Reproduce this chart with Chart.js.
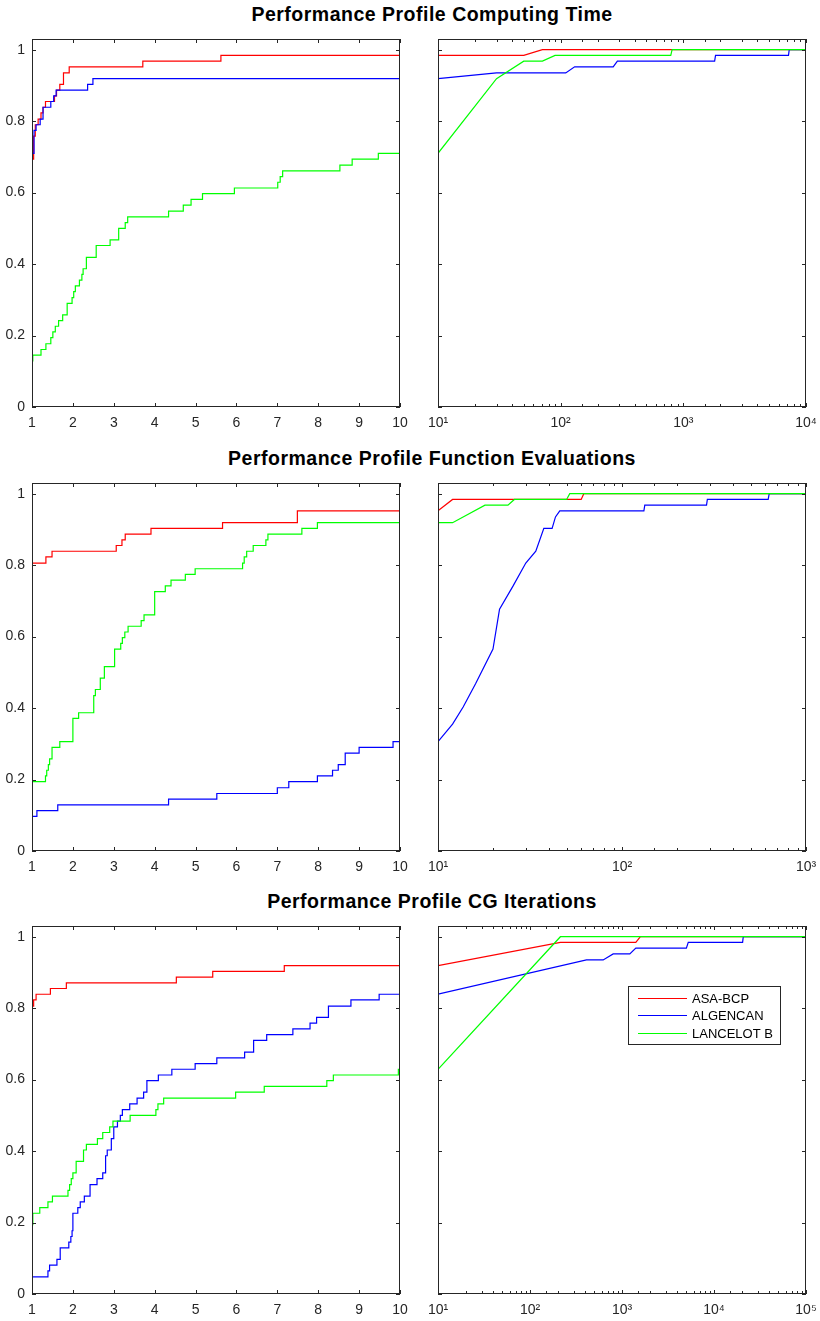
<!DOCTYPE html>
<html><head><meta charset="utf-8">
<script src="https://cdn.jsdelivr.net/npm/chart.js@4/dist/chart.umd.min.js"></script>
<style>
body{margin:0;background:#fff;width:820px;height:1321px;position:relative;overflow:hidden;font-family:'Liberation Sans',Arial,sans-serif}
canvas{position:absolute}
.title{position:absolute;left:0;width:864px;text-align:center;font-weight:bold;font-size:19.5px;letter-spacing:0.5px;line-height:22px;color:#000;white-space:nowrap}
</style></head><body>
<script>
// ---------- names / colours / tick labels ----------
const seriesNames = ['ASA-BCP', 'ALGENCAN', 'LANCELOT B'];
const seriesColors = ['#ff0000', '#0000ff', '#00ff00'];
const panelTitles = ['Performance Profile Computing Time', 'Performance Profile Function Evaluations', 'Performance Profile CG Iterations'];
const linXTicks = [1, 2, 3, 4, 5, 6, 7, 8, 9, 10];
const linXTickLabels = ['1', '2', '3', '4', '5', '6', '7', '8', '9', '10'];
const yTicks = [0, 0.2, 0.4, 0.6, 0.8, 1];
const yTickLabels = ['0', '0.2', '0.4', '0.6', '0.8', '1'];
const logMajorTicks = [10, 100, 1000, 10000, 100000];
const logMajorLabels = ['10\u00B9', '10\u00B2', '10\u00B3', '10\u2074', '10\u2075'];
const logXMax = [10000, 1000, 100000];

// ---------- Computing time ----------
const time_lin_asa_x = [1, 1.04, 1.08, 1.15, 1.22, 1.27, 1.33, 1.55, 1.6, 1.68, 1.77, 1.91, 3.71, 5.62, 10];
const time_lin_asa_y = [0.694, 0.758, 0.790, 0.806, 0.823, 0.839, 0.855, 0.871, 0.887, 0.903, 0.935, 0.952, 0.968, 0.984, 0.984];
const time_lin_alg_x = [1, 1.05, 1.1, 1.2, 1.27, 1.46, 1.53, 1.59, 2.36, 2.49, 10];
const time_lin_alg_y = [0.710, 0.774, 0.790, 0.806, 0.839, 0.855, 0.871, 0.887, 0.903, 0.919, 0.919];
const time_lin_lan_x = [1, 1.02, 1.22, 1.34, 1.46, 1.51, 1.57, 1.65, 1.75, 1.86, 1.98, 2.02, 2.06, 2.16, 2.22, 2.25, 2.33, 2.57, 2.91, 3.12, 3.28, 3.34, 4.34, 4.7, 4.89, 5.17, 5.95, 7.01, 7.07, 7.13, 8.53, 8.83, 9.47, 10];
const time_lin_lan_y = [0.129, 0.145, 0.161, 0.177, 0.194, 0.210, 0.226, 0.242, 0.258, 0.290, 0.306, 0.323, 0.339, 0.355, 0.371, 0.387, 0.419, 0.452, 0.468, 0.500, 0.516, 0.532, 0.548, 0.565, 0.581, 0.597, 0.613, 0.629, 0.645, 0.661, 0.677, 0.694, 0.710, 0.710];

const time_log_asa_x = [10, 50, 71, 10000];
const time_log_asa_y = [0.984, 0.984, 1, 1];
const time_log_alg_x = [10, 30, 110, 130, 268, 290, 1800, 1830, 7200, 7300, 10000];
const time_log_alg_y = [0.919, 0.935, 0.935, 0.952, 0.952, 0.968, 0.968, 0.984, 0.984, 1, 1];
const time_log_lan_x = [10, 30, 50, 71, 90, 790, 810, 10000];
const time_log_lan_y = [0.710, 0.919, 0.968, 0.968, 0.984, 0.984, 1, 1];

// ---------- Function evaluations ----------
const fev_lin_asa_x = [1, 1.34, 1.49, 3.06, 3.2, 3.28, 3.91, 5.66, 7.49, 10];
const fev_lin_asa_y = [0.806, 0.823, 0.839, 0.855, 0.871, 0.887, 0.903, 0.919, 0.952, 0.952];
const fev_lin_alg_x = [1, 1.12, 1.63, 4.34, 5.52, 7.0, 7.28, 7.98, 8.35, 8.49, 8.66, 9.0, 9.83, 10];
const fev_lin_alg_y = [0.097, 0.113, 0.129, 0.145, 0.161, 0.177, 0.194, 0.210, 0.226, 0.242, 0.274, 0.290, 0.306, 0.306];
const fev_lin_lan_x = [1, 1.33, 1.36, 1.4, 1.43, 1.49, 1.68, 2.0, 2.14, 2.51, 2.55, 2.67, 2.77, 3.02, 3.17, 3.21, 3.27, 3.35, 3.67, 3.74, 4.0, 4.26, 4.4, 4.75, 4.99, 6.15, 6.19, 6.25, 6.41, 6.72, 6.77, 7.6, 7.98, 10];
const fev_lin_lan_y = [0.194, 0.210, 0.226, 0.242, 0.258, 0.290, 0.306, 0.371, 0.387, 0.435, 0.452, 0.484, 0.516, 0.565, 0.581, 0.597, 0.613, 0.629, 0.645, 0.661, 0.726, 0.742, 0.758, 0.774, 0.790, 0.806, 0.823, 0.839, 0.855, 0.871, 0.887, 0.903, 0.919, 0.919];

const fev_log_asa_x = [10, 12, 60, 62, 1000];
const fev_log_asa_y = [0.952, 0.984, 0.984, 1, 1];
const fev_log_alg_x = [10, 12, 13.7, 16, 19.9, 21.6, 25.6, 30, 34, 37.6, 41.7, 43.5, 45.9, 131.5, 133, 288, 291, 623, 631, 1000];
const fev_log_alg_y = [0.306, 0.355, 0.403, 0.468, 0.565, 0.677, 0.742, 0.806, 0.839, 0.903, 0.903, 0.935, 0.952, 0.952, 0.968, 0.968, 0.984, 0.984, 1, 1];
const fev_log_lan_x = [10, 12, 18, 24, 26, 50, 52, 1000];
const fev_log_lan_y = [0.919, 0.919, 0.968, 0.968, 0.984, 0.984, 1, 1];

// ---------- CG iterations ----------
const cg_lin_asa_x = [1, 1.04, 1.1, 1.45, 1.84, 4.53, 5.42, 7.17, 10];
const cg_lin_asa_y = [0.806, 0.823, 0.839, 0.855, 0.871, 0.887, 0.903, 0.919, 0.919];
const cg_lin_alg_x = [1, 1.39, 1.43, 1.61, 1.69, 1.9, 1.95, 1.98, 2.0, 2.12, 2.18, 2.28, 2.42, 2.59, 2.73, 2.8, 2.84, 2.94, 3.0, 3.09, 3.16, 3.21, 3.39, 3.57, 3.73, 3.81, 4.09, 4.42, 4.99, 5.52, 6.2, 6.42, 6.74, 7.38, 7.8, 7.96, 8.25, 8.8, 9.49, 10];
const cg_lin_alg_y = [0.048, 0.065, 0.081, 0.097, 0.129, 0.145, 0.161, 0.177, 0.226, 0.242, 0.258, 0.274, 0.306, 0.323, 0.339, 0.387, 0.403, 0.435, 0.468, 0.484, 0.500, 0.516, 0.532, 0.548, 0.565, 0.597, 0.613, 0.629, 0.645, 0.661, 0.677, 0.710, 0.726, 0.742, 0.758, 0.774, 0.806, 0.823, 0.839, 0.839];
const cg_lin_lan_x = [1, 1.02, 1.19, 1.39, 1.5, 1.88, 1.92, 1.96, 2.0, 2.08, 2.26, 2.33, 2.6, 2.73, 2.9, 2.98, 3.4, 4.03, 4.08, 4.22, 5.98, 6.68, 8.21, 8.37, 9.96, 10];
const cg_lin_lan_y = [0.194, 0.226, 0.242, 0.258, 0.274, 0.290, 0.306, 0.323, 0.339, 0.371, 0.403, 0.419, 0.435, 0.452, 0.468, 0.484, 0.500, 0.516, 0.532, 0.548, 0.565, 0.581, 0.597, 0.613, 0.629, 0.629];

const cg_log_asa_x = [10, 214, 1413, 1585, 100000];
const cg_log_asa_y = [0.919, 0.984, 0.984, 1, 1];
const cg_log_alg_x = [10, 411, 624, 802, 1216, 1413, 5010, 5250, 20460, 20800, 100000];
const cg_log_alg_y = [0.839, 0.935, 0.935, 0.952, 0.952, 0.968, 0.968, 0.984, 0.984, 1, 1];
const cg_log_lan_x = [10, 214, 100000];
const cg_log_lan_y = [0.629, 1, 1];

// ---------- layout ----------
const AXC = '#262626';
const FONT = "'Liberation Sans', Arial, sans-serif";
const rowTops = [39, 483, 926];
const colLefts = [32, 438];
const AREA = 368, PL = 40, PT = 20, PR = 20, PB = 35;

Chart.defaults.font.family = FONT;
Chart.defaults.font.size = 14;
Chart.defaults.color = AXC;

const pts = (xs, ys) => xs.map((x, i) => ({ x: x, y: ys[i] }));
const isPow10 = v => { const e = Math.log10(v); return Math.abs(e - Math.round(e)) < 1e-9; };

const framePlugin = {
  id: 'frame',
  afterDatasetsDraw(chart) {
    const { ctx, chartArea: a, scales } = chart;
    const xs = scales.x, ys = scales.y;
    const logX = xs.type === 'logarithmic';
    ctx.save();
    ctx.strokeStyle = AXC; ctx.lineWidth = 1;
    ctx.beginPath();
    xs.ticks.forEach(t => {
      const px = Math.round(xs.getPixelForValue(t.value)) + 0.5;
      const L = (!logX || isPow10(t.value)) ? 4 : 3;
      ctx.moveTo(px, a.bottom); ctx.lineTo(px, a.bottom - L);
      ctx.moveTo(px, a.top); ctx.lineTo(px, a.top + L);
    });
    ys.ticks.forEach(t => {
      const py = Math.round(ys.getPixelForValue(t.value)) + 0.5;
      ctx.moveTo(a.left, py); ctx.lineTo(a.left + 4, py);
      ctx.moveTo(a.right, py); ctx.lineTo(a.right - 4, py);
    });
    ctx.stroke();
    ctx.strokeRect(Math.round(a.left) + 0.5, Math.round(a.top) + 0.5, Math.round(a.width) - 1, Math.round(a.height) - 1);
    ctx.restore();
  }
};

const boxLegendPlugin = {
  id: 'boxLegend',
  afterDraw(chart, args, o) {
    if (!o || !o.show) return;
    const { ctx, chartArea: a } = chart;
    ctx.save();
    ctx.fillStyle = '#fff';
    ctx.fillRect(a.left + o.x, a.top + o.y, o.w, o.h);
    ctx.strokeStyle = AXC; ctx.lineWidth = 1;
    ctx.strokeRect(a.left + o.x + 0.5, a.top + o.y + 0.5, o.w, o.h);
    ctx.font = '13px ' + FONT;
    ctx.textBaseline = 'middle';
    ctx.textAlign = 'left';
    seriesNames.forEach((name, i) => {
      const yy = Math.round(a.top + o.rows[i]) + 0.5;
      ctx.strokeStyle = seriesColors[i]; ctx.lineWidth = 1.2;
      ctx.beginPath();
      ctx.moveTo(a.left + o.l1, yy); ctx.lineTo(a.left + o.l2, yy);
      ctx.stroke();
      ctx.fillStyle = '#000';
      ctx.fillText(name, a.left + o.tx, yy + 0.5);
    });
    ctx.restore();
  }
};

function makePanel(row, col, xs, ys, legend) {
  const isLog = col === 1;
  const c = document.createElement('canvas');
  const W = AREA + PL + PR, H = AREA + PT + PB;
  c.width = W; c.height = H;
  c.style.width = W + 'px'; c.style.height = H + 'px';
  c.style.left = (colLefts[col] - PL) + 'px';
  c.style.top = (rowTops[row] - PT) + 'px';
  document.body.appendChild(c);
  new Chart(c, {
    type: 'line',
    data: {
      datasets: seriesNames.map((name, i) => ({
        label: name,
        data: pts(xs[i], ys[i]),
        borderColor: seriesColors[i],
        borderWidth: 1.2,
        pointRadius: 0,
        fill: false,
        tension: 0,
        stepped: isLog ? false : 'before',
        order: 2 - i
      }))
    },
    options: {
      responsive: false, animation: false, devicePixelRatio: 1,
      layout: { padding: { top: PT, right: PR, left: 0, bottom: 0 } },
      plugins: {
        legend: { display: false }, tooltip: { enabled: false },
        boxLegend: legend || { show: false }
      },
      scales: {
        x: {
          type: isLog ? 'logarithmic' : 'linear',
          min: isLog ? 10 : 1,
          max: isLog ? logXMax[row] : 10,
          grid: { display: false, drawTicks: false },
          border: { display: false },
          ticks: {
            autoSkip: false, maxRotation: 0, padding: 8, color: AXC,
            callback: (v) => {
              if (isLog) { const k = logMajorTicks.indexOf(v); return k >= 0 ? logMajorLabels[k] : ''; }
              const k = linXTicks.indexOf(v); return k >= 0 ? linXTickLabels[k] : '';
            }
          },
          afterBuildTicks: isLog ? undefined : (s) => { s.ticks = linXTicks.map(v => ({ value: v })); },
          afterFit: (s) => { s.height = PB; }
        },
        y: {
          type: 'linear', min: 0, max: 1.03,
          grid: { display: false, drawTicks: false },
          border: { display: false },
          ticks: {
            display: !isLog, padding: 7, color: AXC,
            callback: (v) => { const k = yTicks.indexOf(v); return k >= 0 ? yTickLabels[k] : ''; }
          },
          afterBuildTicks: (s) => { s.ticks = yTicks.map(v => ({ value: v })); },
          afterFit: (s) => { s.width = PL; }
        }
      }
    },
    plugins: [framePlugin, boxLegendPlugin]
  });
}

// titles
const titleTops = [3, 447, 890];
panelTitles.forEach((t, r) => {
  const d = document.createElement('div');
  d.className = 'title';
  d.style.top = titleTops[r] + 'px';
  d.textContent = t;
  document.body.appendChild(d);
});

makePanel(0, 0, [time_lin_asa_x, time_lin_alg_x, time_lin_lan_x], [time_lin_asa_y, time_lin_alg_y, time_lin_lan_y]);
makePanel(0, 1, [time_log_asa_x, time_log_alg_x, time_log_lan_x], [time_log_asa_y, time_log_alg_y, time_log_lan_y]);
makePanel(1, 0, [fev_lin_asa_x, fev_lin_alg_x, fev_lin_lan_x], [fev_lin_asa_y, fev_lin_alg_y, fev_lin_lan_y]);
makePanel(1, 1, [fev_log_asa_x, fev_log_alg_x, fev_log_lan_x], [fev_log_asa_y, fev_log_alg_y, fev_log_lan_y]);
makePanel(2, 0, [cg_lin_asa_x, cg_lin_alg_x, cg_lin_lan_x], [cg_lin_asa_y, cg_lin_alg_y, cg_lin_lan_y]);
makePanel(2, 1, [cg_log_asa_x, cg_log_alg_x, cg_log_lan_x], [cg_log_asa_y, cg_log_alg_y, cg_log_lan_y],
  { show: true, x: 190, y: 60, w: 152, h: 58, l1: 200, l2: 249, tx: 254, rows: [71.7, 89.3, 107.3] });
</script>
</body></html>
